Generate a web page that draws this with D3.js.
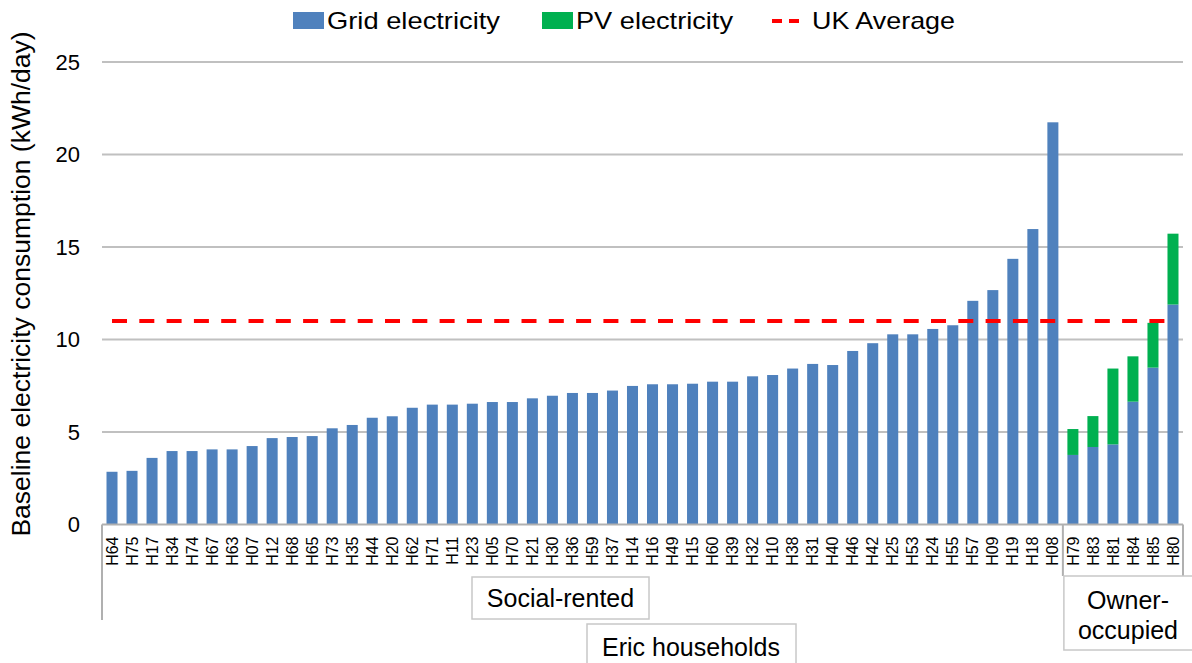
<!DOCTYPE html>
<html>
<head>
<meta charset="utf-8">
<script src="https://cdn.jsdelivr.net/npm/d3@7"></script>
<style>
  body { margin: 0; background: #fff; }
  svg text { font-family: "Liberation Sans", Arial, sans-serif; fill: #000; }
</style>
</head>
<body>
<div id="chart"></div>
<script>
// households, sorted as in the figure
var houses = ["H64","H75","H17","H34","H74","H67","H63","H07","H12","H68",
              "H65","H73","H35","H44","H20","H62","H71","H11","H23","H05",
              "H70","H21","H30","H36","H59","H37","H14","H16","H49","H15",
              "H60","H39","H32","H10","H38","H31","H40","H46","H42","H25",
              "H53","H24","H55","H57","H09","H19","H18","H08",
              "H79","H83","H81","H84","H85","H80"];

// grid electricity (kWh/day)
var gridKwh = [2.85,2.9,3.6,3.97,3.97,4.06,4.06,4.24,4.67,4.73,
               4.78,5.2,5.38,5.77,5.85,6.31,6.48,6.48,6.53,6.62,
               6.62,6.82,6.96,7.11,7.11,7.24,7.49,7.58,7.58,7.61,
               7.72,7.72,8.01,8.08,8.43,8.68,8.62,9.38,9.8,10.28,
               10.28,10.57,10.77,12.09,12.67,14.36,15.97,21.74,
               3.76,4.19,4.33,6.64,8.48,11.89];

// PV electricity (kWh/day), only the owner-occupied homes have PV
var pvKwh = [0,0,0,0,0,0,0,0,0,0, 0,0,0,0,0,0,0,0,0,0,
             0,0,0,0,0,0,0,0,0,0, 0,0,0,0,0,0,0,0,0,0,
             0,0,0,0,0,0,0,0,
             1.4,1.67,4.1,2.45,2.42,3.83];

var tenure = ["Social-rented","Owner-occupied"];
var tenureCount = [48, 6];
var ukAverage = 11;
var yTicks = [0,5,10,15,20,25];
var seriesNames = ["Grid electricity","PV electricity","UK Average"];
var colors = {grid: "#4f81bd", pv: "#00b050", uk: "#ff0000"};

var width = 1192, height = 663;
var margin = {top: 62, right: 9, bottom: 138.5, left: 102};

var svg = d3.select("#chart").append("svg")
    .attr("width", width)
    .attr("height", height);

var x = d3.scaleBand()
    .domain(houses)
    .range([margin.left, width - margin.right])
    .paddingInner(0.45)
    .paddingOuter(0.225);

var y = d3.scaleLinear()
    .domain([0, 25])
    .range([height - margin.bottom, margin.top]);

// build rows for stacking
var rows = houses.map(function (h, i) {
    return {house: h, grid: gridKwh[i], pv: pvKwh[i]};
});
var stack = d3.stack().keys(["grid", "pv"])(rows);

// gridlines
svg.append("g").selectAll("line")
    .data(yTicks.slice(1))
    .enter().append("line")
    .attr("x1", margin.left)
    .attr("x2", width - margin.right)
    .attr("y1", function (d) { return y(d); })
    .attr("y2", function (d) { return y(d); })
    .attr("stroke", "#c0c0c0")
    .attr("stroke-width", 2);

// y tick labels
svg.append("g").selectAll("text")
    .data(yTicks)
    .enter().append("text")
    .attr("x", 80)
    .attr("y", function (d) { return y(d); })
    .attr("dy", "0.35em")
    .attr("text-anchor", "end")
    .style("font-size", "22px")
    .text(function (d) { return d; });

// y axis title
svg.append("text")
    .attr("transform", "translate(30," + 284 + ") rotate(-90)")
    .attr("text-anchor", "middle")
    .style("font-size", "26.5px")
    .text("Baseline electricity consumption (kWh/day)");

// bars
svg.append("g").selectAll("g")
    .data(stack)
    .enter().append("g")
    .attr("fill", function (d) { return d.key == "grid" ? colors.grid : colors.pv; })
    .selectAll("rect")
    .data(function (d) { return d; })
    .enter().append("rect")
    .attr("x", function (d) { return x(d.data.house); })
    .attr("width", x.bandwidth())
    .attr("y", function (d) { return y(d[1]); })
    .attr("height", function (d) { return y(d[0]) - y(d[1]); });

// UK average dashed line, first to last category centre
var half = x.bandwidth() / 2;
svg.append("line")
    .attr("x1", x(houses[0]) + half)
    .attr("x2", x(houses[houses.length - 1]) + half)
    .attr("y1", y(ukAverage))
    .attr("y2", y(ukAverage))
    .attr("stroke", colors.uk)
    .attr("stroke-width", 4)
    .attr("stroke-dasharray", "15,12.3");

// x axis line
var baseY = y(0);
svg.append("line")
    .attr("x1", margin.left).attr("x2", width - margin.right)
    .attr("y1", baseY).attr("y2", baseY)
    .attr("stroke", "#b0b0b0").attr("stroke-width", 2);

// category labels (rotated)
svg.append("g").selectAll("text")
    .data(houses)
    .enter().append("text")
    .attr("transform", function (d) {
        return "translate(" + (x(d) + half) + "," + (baseY + 12) + ") rotate(-90)";
    })
    .attr("text-anchor", "end")
    .attr("dy", "0.35em")
    .style("font-size", "16px")
    .text(function (d) { return d; });

// group divider lines of the multi-level axis
var step = x.step();
var leftEdge = margin.left;
var splitX = leftEdge + tenureCount[0] * step;
var rightEdge = leftEdge + (tenureCount[0] + tenureCount[1]) * step;
var dividers = [
    {x: leftEdge, y2: 620},
    {x: splitX, y2: 576},
    {x: rightEdge, y2: 576}
];
svg.append("g").selectAll("line")
    .data(dividers)
    .enter().append("line")
    .attr("x1", function (d) { return d.x; })
    .attr("x2", function (d) { return d.x; })
    .attr("y1", baseY)
    .attr("y2", function (d) { return d.y2; })
    .attr("stroke", "#b0b0b0")
    .attr("stroke-width", 2);

// label boxes
var boxes = [
    {x: 472, y: 577, w: 177, h: 42, lines: [tenure[0]], cx: 560.5, ty: [598]},
    {x: 587, y: 624, w: 209, h: 50, lines: ["Eric households"], cx: 691, ty: [647]},
    {x: splitX + 1, y: 576, w: 140, h: 74, lines: ["Owner-", "occupied"], cx: 1128, ty: [600, 630]}
];
var bx = svg.append("g").selectAll("g")
    .data(boxes)
    .enter().append("g");
bx.append("rect")
    .attr("x", function (d) { return d.x; })
    .attr("y", function (d) { return d.y; })
    .attr("width", function (d) { return d.w; })
    .attr("height", function (d) { return d.h; })
    .attr("fill", "#fff")
    .attr("stroke", "#c8c8c8")
    .attr("stroke-width", 1.5);
bx.each(function (d) {
    var g = d3.select(this);
    d.lines.forEach(function (t, i) {
        g.append("text")
            .attr("x", d.cx)
            .attr("y", d.ty[i])
            .attr("dy", "0.35em")
            .attr("text-anchor", "middle")
            .style("font-size", "25px")
            .text(t);
    });
});

// legend
var legend = svg.append("g");
var legendItems = [
    {name: seriesNames[0], x: 293, type: "box", color: colors.grid, len: 173},
    {name: seriesNames[1], x: 542, type: "box", color: colors.pv, len: 157},
    {name: seriesNames[2], x: 772, type: "line", color: colors.uk, len: 143}
];
legendItems.forEach(function (d) {
    if (d.type == "box") {
        legend.append("rect")
            .attr("x", d.x).attr("y", 12)
            .attr("width", 31).attr("height", 17)
            .attr("fill", d.color);
    } else {
        legend.append("line")
            .attr("x1", d.x).attr("x2", d.x + 34)
            .attr("y1", 21).attr("y2", 21)
            .attr("stroke", d.color)
            .attr("stroke-width", 4)
            .attr("stroke-dasharray", "10,7");
    }
    legend.append("text")
        .attr("x", d.x + (d.type == "box" ? 34 : 40))
        .attr("y", 21)
        .attr("dy", "0.35em")
        .attr("textLength", d.len)
        .attr("lengthAdjust", "spacingAndGlyphs")
        .style("font-size", "24px")
        .text(d.name);
});
</script>
</body>
</html>
